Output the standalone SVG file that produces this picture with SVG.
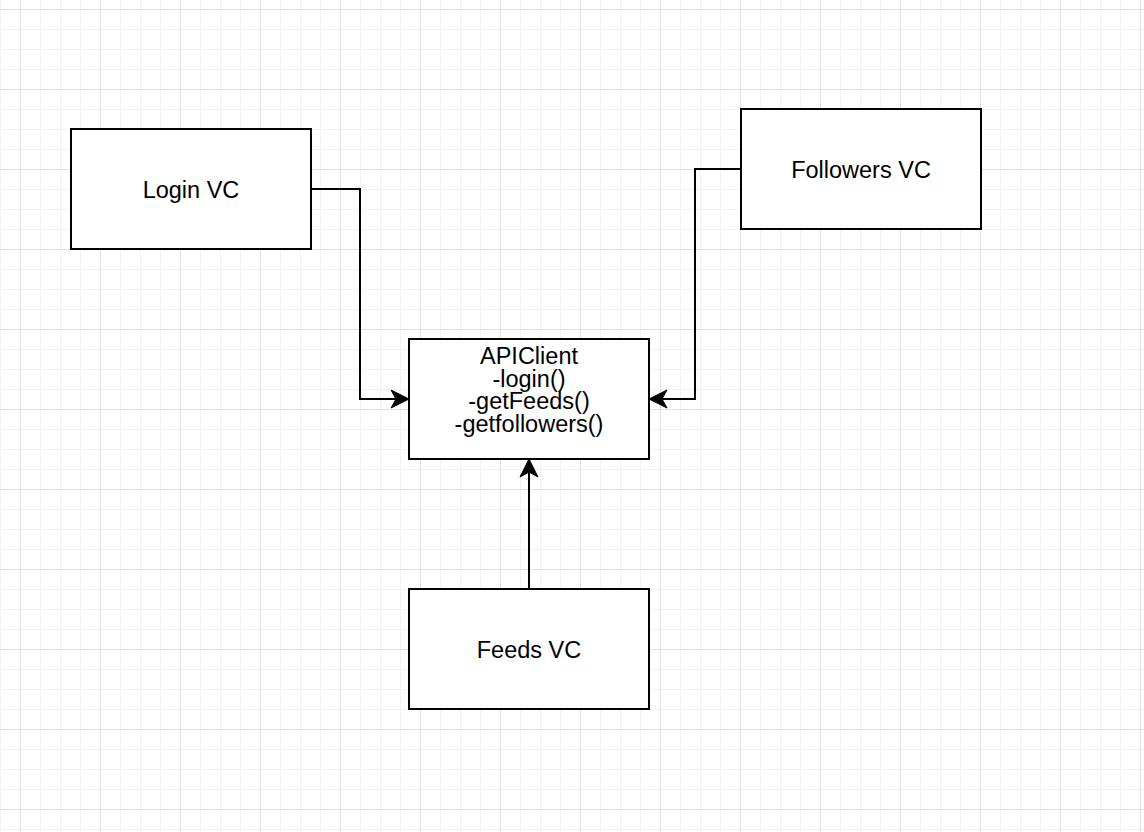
<svg xmlns="http://www.w3.org/2000/svg" width="1144" height="832" viewBox="0 0 1144 832">
  <defs>
    <style>
      .box { fill: #ffffff; stroke: #000000; stroke-width: 2; }
      .lbl { font-family: "Liberation Sans", Helvetica, Arial, sans-serif; font-size: 23.5px; fill: #000000; text-anchor: middle; }
      .edge { fill: none; stroke: #000000; stroke-width: 2; }
      .head { fill: #000000; stroke: #000000; stroke-width: 1; stroke-linejoin: miter; }
    </style>
    <pattern id="minor" width="20" height="20" patternUnits="userSpaceOnUse" x="0" y="9">
      <path d="M0.5 0V20M0 0.5H20" fill="none" stroke="#f2f2f2" stroke-width="1"/>
    </pattern>
    <pattern id="major" width="80" height="80" patternUnits="userSpaceOnUse" x="20" y="9">
      <path d="M0.5 0V80M0 0.5H80" fill="none" stroke="#e0e0e0" stroke-width="1"/>
    </pattern>
  </defs>

  <g id="background">
    <rect x="0" y="0" width="1144" height="832" fill="#ffffff"/>
    <rect x="0" y="0" width="1144" height="832" fill="url(#minor)"/>
    <rect x="0" y="0" width="1144" height="832" fill="url(#major)"/>
  </g>

  <g id="connectors">
    <path class="edge" d="M311 189H360V399H396"/>
    <path class="head" d="M409 399L391 390L396 399L391 408Z"/>
    <path class="edge" d="M741 169H695V399H662"/>
    <path class="head" d="M649 399L667 390L662 399L667 408Z"/>
    <path class="edge" d="M529 589V472"/>
    <path class="head" d="M529 459L538 477L529 472L520 477Z"/>
  </g>

  <g id="login-vc">
    <rect class="box" x="71" y="129" width="240" height="120"/>
    <text class="lbl" x="191" y="197.5">Login VC</text>
  </g>

  <g id="followers-vc">
    <rect class="box" x="741" y="109" width="240" height="120"/>
    <text class="lbl" x="861" y="177.5">Followers VC</text>
  </g>

  <g id="apiclient">
    <rect class="box" x="409" y="339" width="240" height="120"/>
    <text class="lbl" x="529" y="364"><tspan x="529" y="364">APIClient</tspan><tspan x="529" y="386.5">-login()</tspan><tspan x="529" y="409">-getFeeds()</tspan><tspan x="529" y="431.5">-getfollowers()</tspan></text>
  </g>

  <g id="feeds-vc">
    <rect class="box" x="409" y="589" width="240" height="120"/>
    <text class="lbl" x="529" y="657.5">Feeds VC</text>
  </g>
</svg>
